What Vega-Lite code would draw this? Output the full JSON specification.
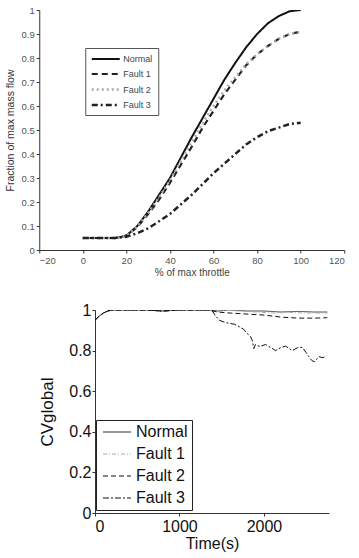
{
  "$schema": "https://vega.github.io/schema/vega-lite/v6.json",
  "padding": 5,
  "background": "white",
  "spacing": 24,
  "center": true,
  "config": {
    "view": {"stroke": null},
    "font": "Liberation Sans",
    "axis": {"grid": false, "domainColor": "#333", "tickColor": "#333"}
  },
  "datasets": {
    "top": [
      {"series": "Normal", "x": 0, "y": 0.05}, {"series": "Normal", "x": 5, "y": 0.05}, {"series": "Normal", "x": 10, "y": 0.05}, {"series": "Normal", "x": 15, "y": 0.05}, {"series": "Normal", "x": 20, "y": 0.06}, {"series": "Normal", "x": 25, "y": 0.1}, {"series": "Normal", "x": 30, "y": 0.16}, {"series": "Normal", "x": 35, "y": 0.23}, {"series": "Normal", "x": 40, "y": 0.3}, {"series": "Normal", "x": 45, "y": 0.385}, {"series": "Normal", "x": 50, "y": 0.47}, {"series": "Normal", "x": 55, "y": 0.55}, {"series": "Normal", "x": 60, "y": 0.63}, {"series": "Normal", "x": 65, "y": 0.71}, {"series": "Normal", "x": 70, "y": 0.78}, {"series": "Normal", "x": 75, "y": 0.845}, {"series": "Normal", "x": 80, "y": 0.9}, {"series": "Normal", "x": 85, "y": 0.945}, {"series": "Normal", "x": 90, "y": 0.975}, {"series": "Normal", "x": 95, "y": 0.995}, {"series": "Normal", "x": 100, "y": 1.0},
      {"series": "Fault 1", "x": 0, "y": 0.05}, {"series": "Fault 1", "x": 5, "y": 0.05}, {"series": "Fault 1", "x": 10, "y": 0.05}, {"series": "Fault 1", "x": 15, "y": 0.05}, {"series": "Fault 1", "x": 20, "y": 0.06}, {"series": "Fault 1", "x": 25, "y": 0.095}, {"series": "Fault 1", "x": 30, "y": 0.15}, {"series": "Fault 1", "x": 35, "y": 0.21}, {"series": "Fault 1", "x": 40, "y": 0.28}, {"series": "Fault 1", "x": 45, "y": 0.355}, {"series": "Fault 1", "x": 50, "y": 0.43}, {"series": "Fault 1", "x": 55, "y": 0.51}, {"series": "Fault 1", "x": 60, "y": 0.58}, {"series": "Fault 1", "x": 65, "y": 0.65}, {"series": "Fault 1", "x": 70, "y": 0.71}, {"series": "Fault 1", "x": 75, "y": 0.77}, {"series": "Fault 1", "x": 80, "y": 0.815}, {"series": "Fault 1", "x": 85, "y": 0.85}, {"series": "Fault 1", "x": 90, "y": 0.88}, {"series": "Fault 1", "x": 95, "y": 0.9}, {"series": "Fault 1", "x": 100, "y": 0.91},
      {"series": "Fault 2", "x": 0, "y": 0.05}, {"series": "Fault 2", "x": 5, "y": 0.05}, {"series": "Fault 2", "x": 10, "y": 0.05}, {"series": "Fault 2", "x": 15, "y": 0.05}, {"series": "Fault 2", "x": 20, "y": 0.06}, {"series": "Fault 2", "x": 25, "y": 0.098}, {"series": "Fault 2", "x": 30, "y": 0.155}, {"series": "Fault 2", "x": 35, "y": 0.22}, {"series": "Fault 2", "x": 40, "y": 0.29}, {"series": "Fault 2", "x": 45, "y": 0.37}, {"series": "Fault 2", "x": 50, "y": 0.45}, {"series": "Fault 2", "x": 55, "y": 0.53}, {"series": "Fault 2", "x": 60, "y": 0.6}, {"series": "Fault 2", "x": 65, "y": 0.665}, {"series": "Fault 2", "x": 70, "y": 0.72}, {"series": "Fault 2", "x": 75, "y": 0.775}, {"series": "Fault 2", "x": 80, "y": 0.815}, {"series": "Fault 2", "x": 85, "y": 0.85}, {"series": "Fault 2", "x": 90, "y": 0.88}, {"series": "Fault 2", "x": 95, "y": 0.9}, {"series": "Fault 2", "x": 100, "y": 0.91},
      {"series": "Fault 3", "x": 0, "y": 0.05}, {"series": "Fault 3", "x": 5, "y": 0.05}, {"series": "Fault 3", "x": 10, "y": 0.05}, {"series": "Fault 3", "x": 15, "y": 0.05}, {"series": "Fault 3", "x": 20, "y": 0.055}, {"series": "Fault 3", "x": 25, "y": 0.07}, {"series": "Fault 3", "x": 30, "y": 0.09}, {"series": "Fault 3", "x": 35, "y": 0.12}, {"series": "Fault 3", "x": 40, "y": 0.15}, {"series": "Fault 3", "x": 45, "y": 0.19}, {"series": "Fault 3", "x": 50, "y": 0.23}, {"series": "Fault 3", "x": 55, "y": 0.275}, {"series": "Fault 3", "x": 60, "y": 0.32}, {"series": "Fault 3", "x": 65, "y": 0.36}, {"series": "Fault 3", "x": 70, "y": 0.4}, {"series": "Fault 3", "x": 75, "y": 0.44}, {"series": "Fault 3", "x": 80, "y": 0.47}, {"series": "Fault 3", "x": 85, "y": 0.495}, {"series": "Fault 3", "x": 90, "y": 0.51}, {"series": "Fault 3", "x": 95, "y": 0.525}, {"series": "Fault 3", "x": 100, "y": 0.53}
    ],
    "bottom": [
      {"series": "Normal", "t": 0, "v": 0.95}, {"series": "Normal", "t": 50, "v": 0.97}, {"series": "Normal", "t": 100, "v": 0.985}, {"series": "Normal", "t": 150, "v": 0.995}, {"series": "Normal", "t": 200, "v": 1.0}, {"series": "Normal", "t": 400, "v": 1.0}, {"series": "Normal", "t": 600, "v": 1.0}, {"series": "Normal", "t": 800, "v": 0.995}, {"series": "Normal", "t": 1000, "v": 1.0}, {"series": "Normal", "t": 1200, "v": 1.0}, {"series": "Normal", "t": 1350, "v": 1.0}, {"series": "Normal", "t": 1450, "v": 0.995}, {"series": "Normal", "t": 1600, "v": 1.0}, {"series": "Normal", "t": 1800, "v": 0.995}, {"series": "Normal", "t": 2000, "v": 0.995}, {"series": "Normal", "t": 2200, "v": 0.99}, {"series": "Normal", "t": 2400, "v": 0.993}, {"series": "Normal", "t": 2600, "v": 0.99}, {"series": "Normal", "t": 2750, "v": 0.99},
      {"series": "Fault 1", "t": 0, "v": 0.95}, {"series": "Fault 1", "t": 50, "v": 0.97}, {"series": "Fault 1", "t": 100, "v": 0.985}, {"series": "Fault 1", "t": 150, "v": 0.995}, {"series": "Fault 1", "t": 200, "v": 1.0}, {"series": "Fault 1", "t": 400, "v": 1.0}, {"series": "Fault 1", "t": 600, "v": 1.0}, {"series": "Fault 1", "t": 800, "v": 0.995}, {"series": "Fault 1", "t": 1000, "v": 1.0}, {"series": "Fault 1", "t": 1200, "v": 1.0}, {"series": "Fault 1", "t": 1350, "v": 1.0}, {"series": "Fault 1", "t": 1450, "v": 0.99}, {"series": "Fault 1", "t": 1500, "v": 1.0}, {"series": "Fault 1", "t": 1700, "v": 0.995}, {"series": "Fault 1", "t": 1900, "v": 0.99}, {"series": "Fault 1", "t": 2100, "v": 0.985}, {"series": "Fault 1", "t": 2300, "v": 0.988}, {"series": "Fault 1", "t": 2500, "v": 0.985}, {"series": "Fault 1", "t": 2750, "v": 0.985},
      {"series": "Fault 2", "t": 0, "v": 0.95}, {"series": "Fault 2", "t": 50, "v": 0.97}, {"series": "Fault 2", "t": 100, "v": 0.985}, {"series": "Fault 2", "t": 150, "v": 0.995}, {"series": "Fault 2", "t": 200, "v": 1.0}, {"series": "Fault 2", "t": 400, "v": 1.0}, {"series": "Fault 2", "t": 600, "v": 1.0}, {"series": "Fault 2", "t": 800, "v": 0.995}, {"series": "Fault 2", "t": 1000, "v": 1.0}, {"series": "Fault 2", "t": 1200, "v": 1.0}, {"series": "Fault 2", "t": 1350, "v": 1.0}, {"series": "Fault 2", "t": 1450, "v": 0.99}, {"series": "Fault 2", "t": 1600, "v": 0.985}, {"series": "Fault 2", "t": 1800, "v": 0.98}, {"series": "Fault 2", "t": 2000, "v": 0.975}, {"series": "Fault 2", "t": 2200, "v": 0.965}, {"series": "Fault 2", "t": 2400, "v": 0.96}, {"series": "Fault 2", "t": 2600, "v": 0.96}, {"series": "Fault 2", "t": 2750, "v": 0.962},
      {"series": "Fault 3", "t": 0, "v": 0.95}, {"series": "Fault 3", "t": 50, "v": 0.97}, {"series": "Fault 3", "t": 100, "v": 0.985}, {"series": "Fault 3", "t": 150, "v": 0.995}, {"series": "Fault 3", "t": 200, "v": 1.0}, {"series": "Fault 3", "t": 400, "v": 1.0}, {"series": "Fault 3", "t": 600, "v": 1.0}, {"series": "Fault 3", "t": 800, "v": 0.995}, {"series": "Fault 3", "t": 1000, "v": 1.0}, {"series": "Fault 3", "t": 1200, "v": 1.0}, {"series": "Fault 3", "t": 1350, "v": 1.0}, {"series": "Fault 3", "t": 1390, "v": 0.995}, {"series": "Fault 3", "t": 1420, "v": 0.975}, {"series": "Fault 3", "t": 1470, "v": 0.95}, {"series": "Fault 3", "t": 1530, "v": 0.94}, {"series": "Fault 3", "t": 1590, "v": 0.934}, {"series": "Fault 3", "t": 1650, "v": 0.93}, {"series": "Fault 3", "t": 1705, "v": 0.918}, {"series": "Fault 3", "t": 1760, "v": 0.905}, {"series": "Fault 3", "t": 1800, "v": 0.885}, {"series": "Fault 3", "t": 1840, "v": 0.87}, {"series": "Fault 3", "t": 1862, "v": 0.85}, {"series": "Fault 3", "t": 1880, "v": 0.81}, {"series": "Fault 3", "t": 1900, "v": 0.83}, {"series": "Fault 3", "t": 1950, "v": 0.82}, {"series": "Fault 3", "t": 2020, "v": 0.83}, {"series": "Fault 3", "t": 2080, "v": 0.815}, {"series": "Fault 3", "t": 2138, "v": 0.8}, {"series": "Fault 3", "t": 2200, "v": 0.815}, {"series": "Fault 3", "t": 2256, "v": 0.822}, {"series": "Fault 3", "t": 2300, "v": 0.81}, {"series": "Fault 3", "t": 2335, "v": 0.8}, {"series": "Fault 3", "t": 2400, "v": 0.815}, {"series": "Fault 3", "t": 2453, "v": 0.816}, {"series": "Fault 3", "t": 2500, "v": 0.79}, {"series": "Fault 3", "t": 2531, "v": 0.77}, {"series": "Fault 3", "t": 2570, "v": 0.75}, {"series": "Fault 3", "t": 2600, "v": 0.745}, {"series": "Fault 3", "t": 2630, "v": 0.76}, {"series": "Fault 3", "t": 2650, "v": 0.77}, {"series": "Fault 3", "t": 2700, "v": 0.765}, {"series": "Fault 3", "t": 2740, "v": 0.775}
    ]
  },
  "resolve": {"scale": {"color": "independent", "strokeDash": "independent", "strokeWidth": "independent"}},
  "vconcat": [
    {
      "width": 305,
      "height": 240,
      "data": {"name": "top"},
      "mark": {"type": "line", "clip": true},
      "encoding": {
        "x": {"field": "x", "type": "quantitative", "scale": {"domain": [-20, 120], "nice": false},
          "axis": {"values": [-20, 0, 20, 40, 60, 80, 100, 120], "title": "% of max throttle", "labelFontSize": 9.5, "labelColor": "#555", "titleFontSize": 10, "titleFontWeight": "normal", "titleColor": "#444", "tickSize": 3, "labelPadding": 2, "titlePadding": 3}},
        "y": {"field": "y", "type": "quantitative", "scale": {"domain": [0, 1], "nice": false},
          "axis": {"values": [0, 0.1, 0.2, 0.3, 0.4, 0.5, 0.6, 0.7, 0.8, 0.9, 1], "format": "~g", "title": "Fraction of max mass flow", "labelFontSize": 9.5, "labelColor": "#555", "titleFontSize": 10.5, "titleFontWeight": "normal", "titleColor": "#333", "tickSize": 3, "labelPadding": 2, "titlePadding": 6}},
        "color": {"field": "series", "type": "nominal", "sort": ["Normal", "Fault 1", "Fault 2", "Fault 3"],
          "scale": {"domain": ["Normal", "Fault 1", "Fault 2", "Fault 3"], "range": ["#111", "#222", "#aaa", "#222"]},
          "legend": {"title": null, "orient": "none", "legendX": 46, "legendY": 38, "strokeColor": "#555", "fillColor": "white", "padding": 5, "labelFontSize": 9, "labelColor": "#444", "symbolType": "M-1,0H4.6", "symbolSize": 100, "rowPadding": 3.5, "labelOffset": 20}},
        "strokeDash": {"field": "series", "type": "nominal", "sort": ["Normal", "Fault 1", "Fault 2", "Fault 3"],
          "scale": {"domain": ["Normal", "Fault 1", "Fault 2", "Fault 3"], "range": [[1, 0], [6, 4], [2, 3], [6, 3, 2, 3]]},
          "legend": {"title": null, "orient": "none", "legendX": 46, "legendY": 38, "strokeColor": "#555", "fillColor": "white", "padding": 5, "labelFontSize": 9, "labelColor": "#444", "symbolType": "M-1,0H4.6", "symbolSize": 100, "rowPadding": 3.5, "labelOffset": 20}},
        "strokeWidth": {"field": "series", "type": "nominal", "sort": ["Normal", "Fault 1", "Fault 2", "Fault 3"],
          "scale": {"domain": ["Normal", "Fault 1", "Fault 2", "Fault 3"], "range": [2, 2.5, 1.5, 2.5]},
          "legend": {"title": null, "orient": "none", "legendX": 46, "legendY": 38, "strokeColor": "#555", "fillColor": "white", "padding": 5, "labelFontSize": 9, "labelColor": "#444", "symbolType": "M-1,0H4.6", "symbolSize": 100, "rowPadding": 3.5, "labelOffset": 20}}
      }
    },
    {
      "spacing": 13,
      "resolve": {"scale": {"color": "independent", "strokeDash": "independent", "strokeWidth": "independent"}},
      "hconcat": [
        {
          "width": 1,
          "height": 10,
          "data": {"values": [{"a": 0}]},
          "mark": {"type": "point", "opacity": 0}
        },
        {
          "width": 234,
          "height": 203,
          "data": {"name": "bottom"},
          "mark": {"type": "line", "clip": true},
          "encoding": {
            "x": {"field": "t", "type": "quantitative", "scale": {"domain": [0, 2770], "nice": false},
              "axis": {"values": [0, 1000, 2000], "format": "d", "title": "Time(s)", "labelFontSize": 16, "labelColor": "#111", "titleFontSize": 16, "titleFontWeight": "normal", "titleColor": "#111", "tickSize": 3, "labelPadding": 2, "titlePadding": 1}},
            "y": {"field": "v", "type": "quantitative", "scale": {"domain": [0, 1], "nice": false},
              "axis": {"values": [0, 0.2, 0.4, 0.6, 0.8, 1], "format": "~g", "title": "CVglobal", "labelFontSize": 16, "labelColor": "#111", "titleFontSize": 17, "titleFontWeight": "normal", "titleColor": "#111", "tickSize": 3, "labelPadding": 1, "titlePadding": 12}},
            "color": {"field": "series", "type": "nominal", "sort": ["Normal", "Fault 1", "Fault 2", "Fault 3"],
              "scale": {"domain": ["Normal", "Fault 1", "Fault 2", "Fault 3"], "range": ["#333", "#aaa", "#111", "#111"]},
              "legend": {"title": null, "orient": "none", "legendX": 1, "legendY": 110, "strokeColor": "#222", "fillColor": "white", "padding": 4, "labelFontSize": 16, "labelColor": "#111", "symbolType": "M-1,0H4.6", "symbolSize": 100, "rowPadding": 6, "labelOffset": 20}},
            "strokeDash": {"field": "series", "type": "nominal", "sort": ["Normal", "Fault 1", "Fault 2", "Fault 3"],
              "scale": {"domain": ["Normal", "Fault 1", "Fault 2", "Fault 3"], "range": [[1, 0], [4, 2, 1, 2], [5, 3], [6, 2, 2, 2]]},
              "legend": {"title": null, "orient": "none", "legendX": 1, "legendY": 110, "strokeColor": "#222", "fillColor": "white", "padding": 4, "labelFontSize": 16, "labelColor": "#111", "symbolType": "M-1,0H4.6", "symbolSize": 100, "rowPadding": 6, "labelOffset": 20}},
            "strokeWidth": {"field": "series", "type": "nominal", "sort": ["Normal", "Fault 1", "Fault 2", "Fault 3"],
              "scale": {"domain": ["Normal", "Fault 1", "Fault 2", "Fault 3"], "range": [1, 1, 1.5, 2]},
              "legend": {"title": null, "orient": "none", "legendX": 1, "legendY": 110, "strokeColor": "#222", "fillColor": "white", "padding": 4, "labelFontSize": 16, "labelColor": "#111", "symbolType": "M-1,0H4.6", "symbolSize": 100, "rowPadding": 6, "labelOffset": 20}}
          }
        },
        {
          "width": 21,
          "height": 10,
          "data": {"values": [{"a": 0}]},
          "mark": {"type": "point", "opacity": 0}
        }
      ]
    }
  ]
}
